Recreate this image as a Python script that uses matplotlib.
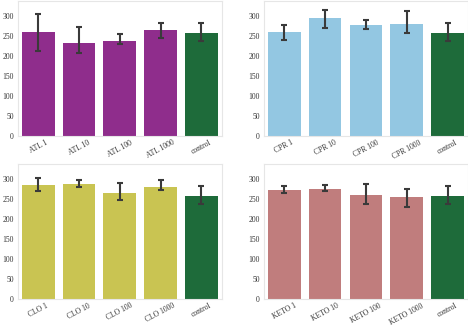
import matplotlib
matplotlib.use("Agg")
import matplotlib.pyplot as plt
import numpy as np

plt.rcParams["font.family"] = ["Liberation Serif", "DejaVu Serif"]

# mean value and error bar low/high for each group, last entry is the control
atl_labels = ["ATL 1", "ATL 10", "ATL 100", "ATL 1000", "control"]
atl_means = [261, 232, 238, 264, 258]
atl_low = [212, 207, 229, 246, 237]
atl_high = [304, 273, 256, 282, 282]

cpr_labels = ["CPR 1", "CPR 10", "CPR 100", "CPR 1000", "control"]
cpr_means = [260, 294, 277, 280, 258]
cpr_low = [239, 270, 267, 257, 237]
cpr_high = [278, 316, 290, 313, 282]

clo_labels = ["CLO 1", "CLO 10", "CLO 100", "CLO 1000", "control"]
clo_means = [284, 287, 264, 281, 258]
clo_low = [271, 279, 248, 272, 237]
clo_high = [302, 298, 290, 298, 282]

keto_labels = ["KETO 1", "KETO 10", "KETO 100", "KETO 1000", "control"]
keto_means = [273, 276, 261, 255, 258]
keto_low = [266, 271, 237, 229, 237]
keto_high = [283, 284, 288, 275, 282]

control_color = "#1e6b3a"
panels = [
    (atl_labels, atl_means, atl_low, atl_high, "#8f2d8c", [0.038, 0.5815, 0.436, 0.416]),
    (cpr_labels, cpr_means, cpr_low, cpr_high, "#93c7e2", [0.564, 0.5815, 0.436, 0.416]),
    (clo_labels, clo_means, clo_low, clo_high, "#c9c452", [0.038, 0.08, 0.436, 0.416]),
    (keto_labels, keto_means, keto_low, keto_high, "#c07d7d", [0.564, 0.08, 0.436, 0.416]),
]

fig = plt.figure(figsize=(4.68, 3.25), dpi=100)

for labels, means, low, high, color, rect in panels:
    ax = fig.add_axes(rect)
    x = np.arange(len(labels))
    means = np.array(means)
    colors = [color] * (len(labels) - 1) + [control_color]
    ax.bar(x, means, width=0.8, color=colors)
    yerr = [means - np.array(low), np.array(high) - means]
    ax.errorbar(x, means, yerr=yerr, fmt="none", ecolor="#3a3a3a",
                elinewidth=1.5, capsize=2.2, capthick=1.5)
    ax.set_xlim(-0.5, len(labels) - 0.5)
    ax.set_ylim(0, 338)
    ax.set_yticks([0, 50, 100, 150, 200, 250, 300])
    ax.set_xticks(x)
    ax.set_xticklabels(labels, rotation=28, ha="center")
    ax.tick_params(axis="y", length=0, labelsize=5.5, colors="#333333", pad=3)
    ax.tick_params(axis="x", length=0, labelsize=5.5, colors="#333333", pad=2)
    for spine in ax.spines.values():
        spine.set_color("#e6e6e6")
        spine.set_linewidth(0.8)

fig.savefig("out.png", dpi=100)
